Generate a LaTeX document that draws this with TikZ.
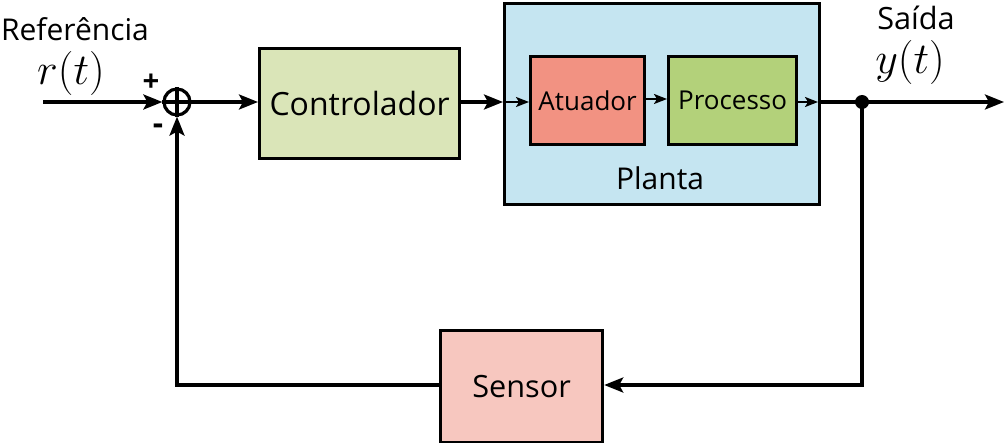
\documentclass[tikz,border=0pt]{standalone}
\usepackage{fontspec}
\setmainfont{Open Sans}
\usetikzlibrary{arrows.meta}
\definecolor{ctrlc}{HTML}{DAE5B8}
\definecolor{plantc}{HTML}{C5E5F1}
\definecolor{atuc}{HTML}{F29282}
\definecolor{procc}{HTML}{B3D17A}
\definecolor{sensc}{HTML}{F7C7BF}
\tikzset{
  blk/.style={draw=black, line width=2.4pt, inner sep=0pt, anchor=north west},
  lbl/.style={inner sep=0pt},
  mathlbl/.style={inner sep=0pt, scale=1.33, font=\fontsize{24.88}{28}\selectfont},
  conn/.style={line width=2.4pt, -{Stealth[length=19*0.75pt, width=15*0.75pt, inset=4*0.75pt]}},
  thinconn/.style={line width=1.6pt, -{Stealth[length=13*0.75pt, width=10*0.75pt, inset=3*0.75pt]}},
}
\begin{document}
\begin{tikzpicture}[x=0.75pt,y=-0.75pt]
\useasboundingbox (0,0) rectangle (1005,442);
% boxes
\node[blk, fill=ctrlc, minimum width=200*0.75pt, minimum height=110*0.75pt] (ctrl) at (258,47) {};
\node[lbl, font=\fontsize{24}{28}\selectfont] at (ctrl.center) {Controlador};
\node[blk, fill=plantc, minimum width=315*0.75pt, minimum height=201*0.75pt] (plant) at (503,2) {};
\node[lbl, font=\fontsize{22.5}{26}\selectfont] (plantlbl) at (660,178) {Planta};
\node[blk, fill=atuc, minimum width=114*0.75pt, minimum height=88*0.75pt] (atu) at (529,55) {};
\node[lbl, font=\fontsize{19.5}{24}\selectfont] at (atu.center) {Atuador};
\node[blk, fill=procc, minimum width=128*0.75pt, minimum height=88*0.75pt] (proc) at (667,55) {};
\node[lbl, font=\fontsize{19.5}{24}\selectfont] at (proc.center) {Processo};
\node[blk, fill=sensc, minimum width=162*0.75pt, minimum height=112*0.75pt] (sens) at (439,329) {};
\node[lbl, font=\fontsize{23}{26}\selectfont] at (sens.center) {Sensor};
% summing junction
\node[draw, circle, line width=2.4pt, minimum size=26*0.75pt, inner sep=0pt] (sum) at (177,102) {};
\draw[line width=2.4pt] (sum.north) -- (sum.south) (sum.west) -- (sum.east);
\node[lbl, font=\bfseries\fontsize{22}{24}\selectfont] (plus) at (151,83) {+};
\node[lbl, font=\bfseries\fontsize{24}{24}\selectfont] (minus) at (158,129) {-};
% labels
\node[lbl, font=\fontsize{22.5}{26}\selectfont] (ref) at (75,29) {Referência};
\node[mathlbl] (rt) at (71,73) {$r(t)$};
\node[lbl, font=\fontsize{23}{26}\selectfont] (said) at (916,18) {Saída};
\node[mathlbl] (yt) at (910,62) {$y(t)$};
% coordinates
\coordinate (in) at (43,102);
\coordinate (out) at (1004,102);
\coordinate (br) at (862,102);
\coordinate (fbr) at (862,385);
\coordinate (fbl) at (177,385);
\coordinate (plin) at (503,102);
\coordinate (plout) at (818,102);
% connectors
\draw[conn] (in) -- (sum.west);
\draw[conn] (sum.east) -- (ctrl.west |- sum.east);
\draw[conn] (ctrl.east |- sum.east) -- (plin);
\draw[thinconn] (plin) -- (atu.west |- plin);
\draw[thinconn] (atu.east |- 0,99) -- (proc.west |- 0,99);
\draw[thinconn] (proc.east |- plout) -- (plout);
\draw[conn] (plout) -- (out);
\draw[conn] (br) -- (fbr) -- (sens.east |- fbr);
\draw[conn] (sens.west |- fbl) -- (fbl) -- (sum.south);
\fill (br) circle (7);
\end{tikzpicture}
\end{document}
